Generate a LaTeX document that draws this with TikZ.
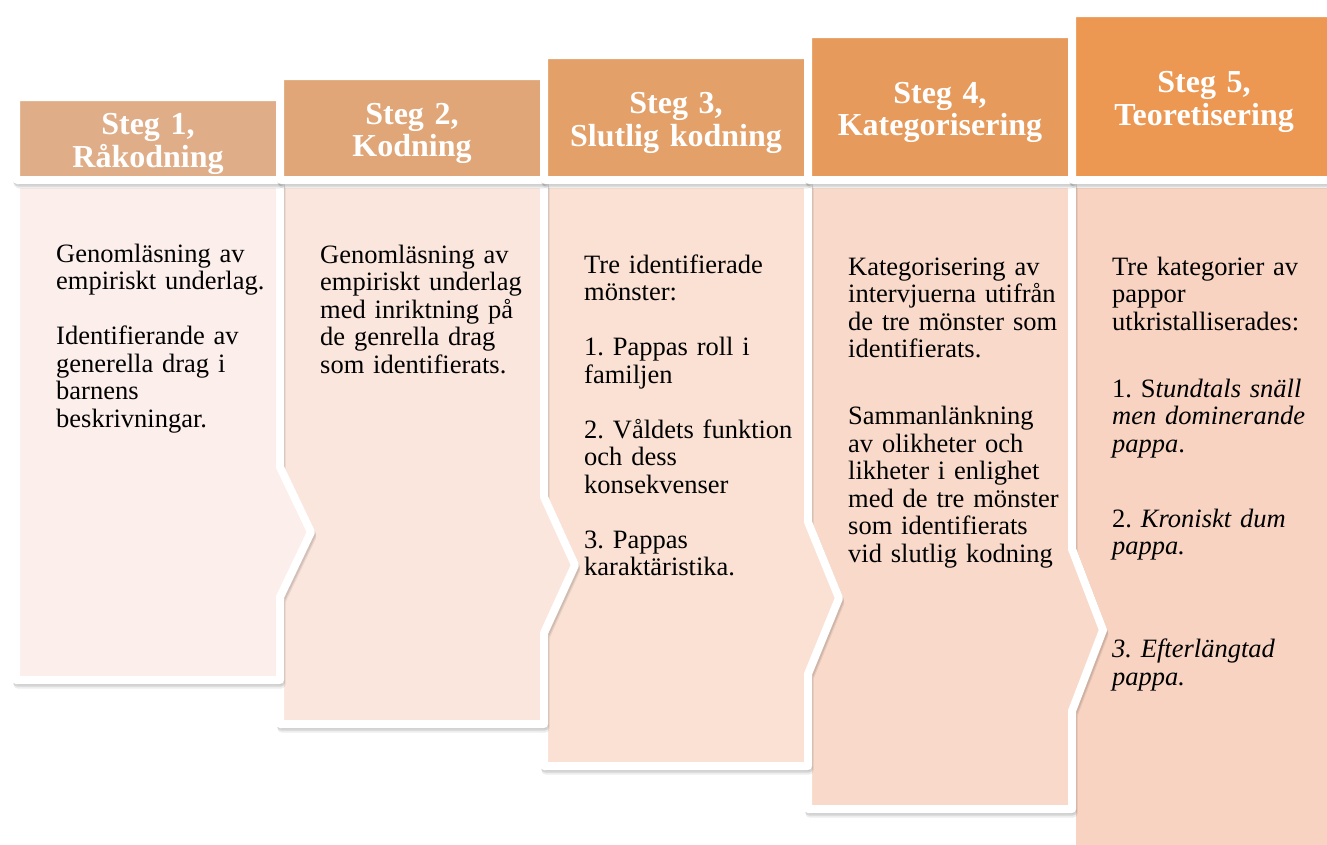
\documentclass[tikz,border=0pt]{standalone}
\usepackage{fontspec}
\setmainfont{Liberation Serif}
\frenchspacing
\definecolor{hA}{HTML}{DFAE88}
\definecolor{hB}{HTML}{E0A677}
\definecolor{hC}{HTML}{E3A068}
\definecolor{hD}{HTML}{E69A5C}
\definecolor{hE}{HTML}{EC9752}
\definecolor{bA}{HTML}{FCEEEA}
\definecolor{bB}{HTML}{FBE6DD}
\definecolor{bC}{HTML}{FAE1D4}
\definecolor{bD}{HTML}{F9DACA}
\definecolor{bE}{HTML}{F8D3C1}
\def\myBodyE{(1072,184) rectangle (1340,880)}
\def\myBodyD{(808,184) -- (1072,184) -- (1072,549) -- (1103,630) -- (1072,711) -- (1072,809) -- (808,809) -- cycle}
\def\myBodyC{(544,184) -- (808,184) -- (808,522) -- (839,598) -- (808,674) -- (808,766) -- (544,766) -- cycle}
\def\myBodyB{(280,184) -- (544,184) -- (544,497) -- (575,565) -- (544,633) -- (544,724) -- (280,724) -- cycle}
\def\myBodyA{(16,184) -- (280,184) -- (280,467) -- (311,532) -- (280,597) -- (280,680) -- (16,680) -- cycle}
\def\myHeadA{(16,97) rectangle (280,180)}
\def\myHeadB{(280,76) rectangle (544,180)}
\def\myHeadC{(544,55) rectangle (808,180)}
\def\myHeadD{(808,34) rectangle (1072,180)}
\def\myHeadE{(1072,13) rectangle (1336,180)}
\tikzset{
  shadeA/.style={draw=black, fill=black, line width=8pt, line join=round, opacity=0.10, xshift=1pt, yshift=-2.5pt},
  shadeB/.style={draw=black, fill=black, line width=8pt, line join=round, opacity=0.07, xshift=1.5pt, yshift=-4.5pt},
  bodybox/.style={draw=white, line width=8pt, line join=round},
  headbox/.style={draw=white, line width=8pt, rounded corners=2pt},
  headtext/.style={text=white, font=\bfseries\fontsize{32}{32.5}\selectfont, align=center, text width=256pt, inner sep=0pt, anchor=base},
  bodytext/.style={text=black, font=\fontsize{26.5}{27.5}\selectfont, align=left, text width=235pt, inner sep=0pt, anchor=base west}
}
\begin{document}
\begin{tikzpicture}[x=1pt,y=-1pt]
\useasboundingbox (0,0) rectangle (1327,844);
\clip (0,0) rectangle (1327,844);
% bodies (later columns below earlier ones)
\path[shadeB] \myBodyE; \path[shadeA] \myBodyE;
\path[bodybox, fill=bE] \myBodyE;
\path[shadeB] \myBodyD; \path[shadeA] \myBodyD;
\path[bodybox, fill=bD] \myBodyD;
\path[shadeB] \myBodyC; \path[shadeA] \myBodyC;
\path[bodybox, fill=bC] \myBodyC;
\path[shadeB] \myBodyB; \path[shadeA] \myBodyB;
\path[bodybox, fill=bB] \myBodyB;
\path[shadeB] \myBodyA; \path[shadeA] \myBodyA;
\path[bodybox, fill=bA] \myBodyA;
% headers (later columns above earlier ones)
\path[shadeB, rounded corners=2pt] \myHeadA; \path[shadeA, rounded corners=2pt] \myHeadA;
\path[headbox, fill=hA] \myHeadA;
\path[shadeB, rounded corners=2pt] \myHeadB; \path[shadeA, rounded corners=2pt] \myHeadB;
\path[headbox, fill=hB] \myHeadB;
\path[shadeB, rounded corners=2pt] \myHeadC; \path[shadeA, rounded corners=2pt] \myHeadC;
\path[headbox, fill=hC] \myHeadC;
\path[shadeB, rounded corners=2pt] \myHeadD; \path[shadeA, rounded corners=2pt] \myHeadD;
\path[headbox, fill=hD] \myHeadD;
\path[shadeB, rounded corners=2pt] \myHeadE; \path[shadeA, rounded corners=2pt] \myHeadE;
\path[headbox, fill=hE] \myHeadE;
% header texts
\node[headtext] (h1) at (148,134.5) {Steg 1,\\Råkodning};
\node[headtext] (h2) at (412,124) {Steg 2,\\Kodning};
\node[headtext] (h3) at (676,113.5) {Steg 3,\\Slutlig kodning};
\node[headtext] (h4) at (940,103) {Steg 4,\\Kategorisering};
\node[headtext] (h5) at (1204,92.5) {Steg 5,\\Teoretisering};
% body texts
\node[bodytext] (t1) at (56,262) {Genomläsning av\\empiriskt underlag.\\[27.5pt]Identifierande av\\generella drag i\\barnens\\beskrivningar.};
\node[bodytext] (t2) at (320,263) {Genomläsning av\\empiriskt underlag\\med inriktning på\\de genrella drag\\som identifierats.};
\node[bodytext] (t3) at (584,273) {Tre identifierade\\mönster:\\[27.5pt]1. Pappas roll i\\familjen\\[27.5pt]2. Våldets funktion\\och dess\\konsekvenser\\[27.5pt]3. Pappas\\karaktäristika.};
\node[bodytext] (t4) at (848,275) {Kategorisering av\\intervjuerna utifrån\\de tre mönster som\\identifierats.\\[39.5pt]Sammanlänkning\\av olikheter och\\likheter i enlighet\\med de tre mönster\\som identifierats\\vid slutlig kodning};
\node[bodytext] (t5) at (1112,275) {Tre kategorier av\\pappor\\utkristalliserades:\\[39.5pt]1. S\textit{tundtals snäll}\\\textit{men dominerande}\\\textit{pappa}.\\[47.5pt]2. \textit{Kroniskt dum}\\\textit{pappa.}\\[75.5pt]\textit{3. Efterlängtad}\\\textit{pappa.}};
\end{tikzpicture}
\end{document}
